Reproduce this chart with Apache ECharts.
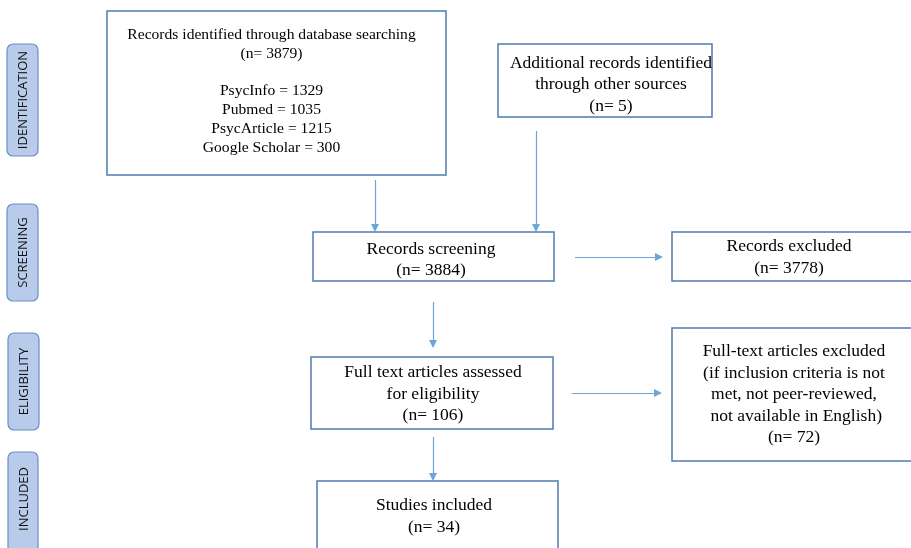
<!DOCTYPE html>
<html>
<head>
<meta charset="utf-8">
<script src="https://cdn.jsdelivr.net/npm/echarts@6/dist/echarts.min.js"></script>
<style>html,body{margin:0;padding:0;background:#fff}#c{width:911px;height:548px}</style>
</head>
<body>
<div id="c"></div>
<script>
// ---- data ----
const stages = ["IDENTIFICATION", "SCREENING", "ELIGIBILITY", "INCLUDED"];
const sources = ["PsycInfo", "Pubmed", "PsycArticle", "Google Scholar"];
const sourceCounts = [1329, 1035, 1215, 300];
const boxTitles = [
  ["Records identified through database searching"],
  ["Additional records identified", "through other sources"],
  ["Records screening"],
  ["Records excluded"],
  ["Full text articles assessed", "for eligibility"],
  ["Full-text articles excluded", "(if inclusion criteria is not", "met, not peer-reviewed,", " not available in English)"],
  ["Studies included"]
];
const boxCounts = [3879, 5, 3884, 3778, 106, 72, 34];
// flows: [from box, to box]
const flows = [[0, 2], [1, 2], [2, 3], [2, 4], [4, 5], [4, 6]];

// ---- layout (pixel-space axis units) ----
const boxRects = [[107, 11, 446, 175], [498, 44, 712, 117], [313, 232, 554, 281], [672, 232, 915, 281],
                  [311, 357, 553, 429], [672, 328, 915, 461], [317, 481, 558, 560]];
const textPos = [[271.5, 25.5, 15.6, 18.8], [611, 52.5, 17.5, 21.5], [431, 238.5, 17.5, 21], [789, 235, 17.5, 22],
                 [433, 362, 17.5, 21.5], [794, 341, 17.5, 21.5], [434, 494, 17.5, 22]];
const arrowPaths = [[[375, 180], [375, 228]], [[536, 131], [536, 228]], [[575, 257], [659, 257]],
                    [[433, 302], [433, 344]], [[572, 393], [658, 393]], [[433, 437], [433, 477]]];
const stageRects = [[7, 44, 38, 156], [7, 204, 38, 301], [8, 333, 39, 430], [8, 452, 38, 560]];

function boxText(i) {
  const lines = boxTitles[i].slice();
  lines.push("(n= " + boxCounts[i] + ")");
  if (i === 0) {
    lines.push("");
    sources.forEach((s, k) => lines.push(s + " = " + sourceCounts[k]));
  }
  return lines.join("\n");
}

const chart = echarts.init(document.getElementById('c'), null, {renderer: 'canvas'});
chart.setOption({
  animation: false,
  grid: {left: 0, right: 0, top: 0, bottom: 0},
  xAxis: {type: 'value', min: 0, max: 911, show: false},
  yAxis: {type: 'value', min: 0, max: 548, inverse: true, show: false},
  series: [
    {
      type: 'custom',
      coordinateSystem: 'cartesian2d',
      data: boxRects.map((r, i) => [r[0], r[1], r[2], r[3], i]),
      clip: false,
      renderItem: function (params, api) {
        const i = api.value(4);
        const p0 = api.coord([api.value(0), api.value(1)]);
        const p1 = api.coord([api.value(2), api.value(3)]);
        const tp = textPos[i];
        const tc = api.coord([tp[0], tp[1]]);
        return {
          type: 'group',
          children: [
            {type: 'rect', shape: {x: p0[0], y: p0[1], width: p1[0] - p0[0], height: p1[1] - p0[1]},
             style: {fill: '#fff', stroke: '#4f7bb0', lineWidth: 1.5}},
            {type: 'text', x: tc[0], y: tc[1],
             style: {text: boxText(i), fill: '#000', font: tp[2] + 'px "Liberation Serif", "Times New Roman", serif',
                     align: 'center', verticalAlign: 'top', lineHeight: tp[3]}}
          ]
        };
      }
    },
    {
      type: 'custom',
      coordinateSystem: 'cartesian2d',
      data: stageRects.map((r, i) => [r[0], r[1], r[2], r[3], i]),
      clip: false,
      renderItem: function (params, api) {
        const i = api.value(4);
        const p0 = api.coord([api.value(0), api.value(1)]);
        const p1 = api.coord([api.value(2), api.value(3)]);
        const cx = (p0[0] + p1[0]) / 2, cy = (p0[1] + p1[1]) / 2;
        const cyText = i === 3 ? api.coord([0, 499])[1] : cy;
        return {
          type: 'group',
          children: [
            {type: 'rect', shape: {x: p0[0], y: p0[1], width: p1[0] - p0[0], height: p1[1] - p0[1], r: 6},
             style: {fill: '#b8cbea', stroke: '#6b8fc4', lineWidth: 1.2}},
            {type: 'text', x: cx + 1, y: cyText, rotation: Math.PI / 2,
             style: {text: stages[i], fill: '#111', font: '13px "Open Sans", "Liberation Sans", sans-serif',
                     align: 'center', verticalAlign: 'middle'}}
          ]
        };
      }
    },
    {
      type: 'lines',
      coordinateSystem: 'cartesian2d',
      polyline: false,
      symbol: ['none', 'triangle'],
      symbolSize: 8,
      lineStyle: {color: '#6ea4dc', width: 1.2, opacity: 1},
      data: arrowPaths.map((p, k) => ({name: flows[k].join('-'), coords: p}))
    }
  ]
});
</script>
</body>
</html>
